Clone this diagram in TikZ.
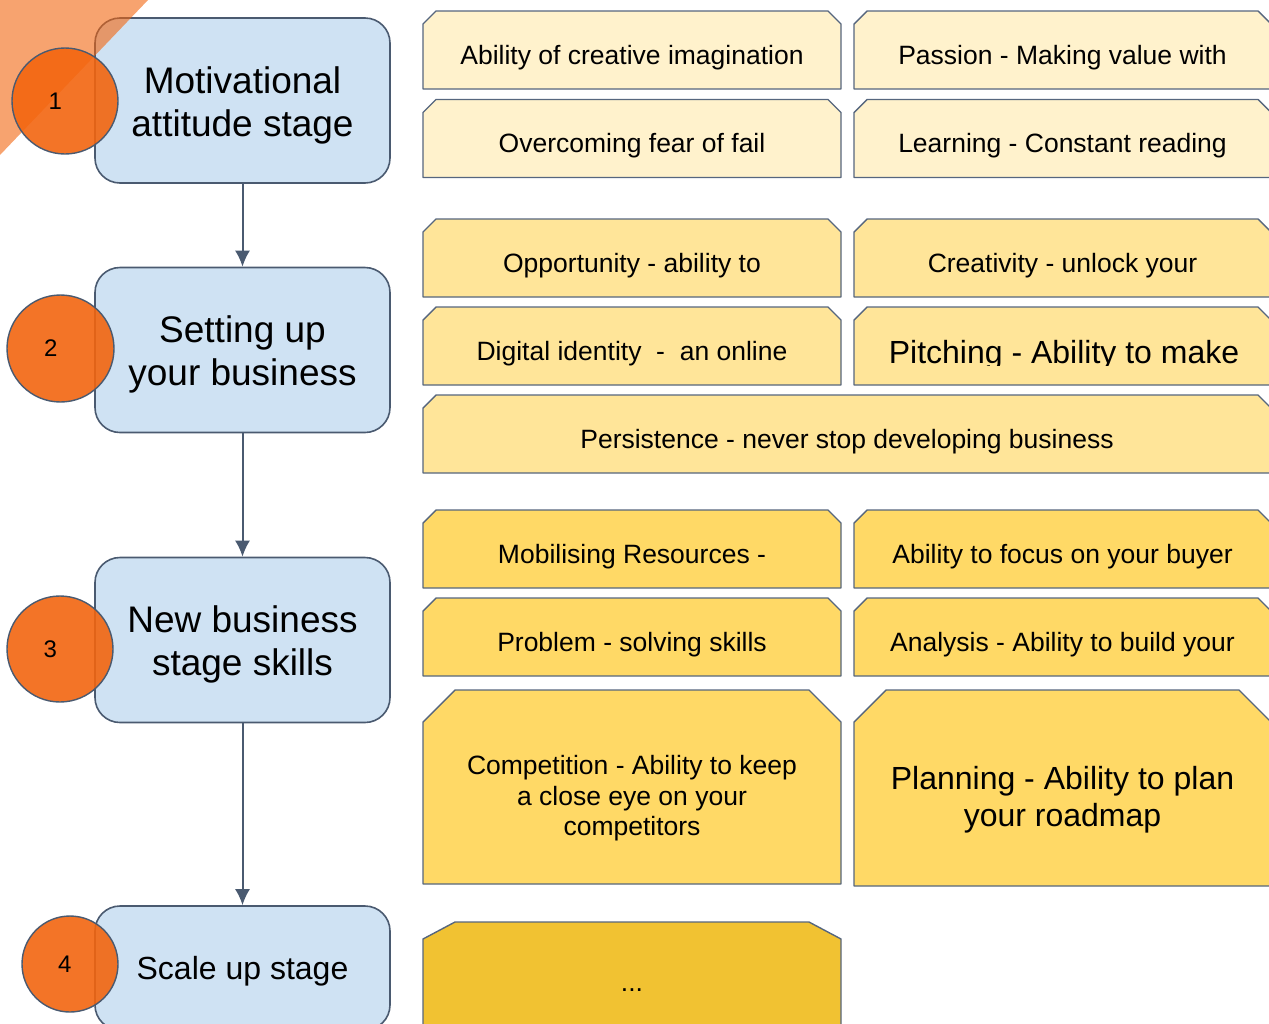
\documentclass[tikz,border=0pt]{standalone}
\usepackage{fontspec}
\setmainfont{Liberation Sans}
\usetikzlibrary{arrows.meta}
\usetikzlibrary{backgrounds}
\definecolor{stagefill}{HTML}{CFE2F3}
\definecolor{edgeblue}{HTML}{4A5A70}
\definecolor{skilledge}{HTML}{56667E}
\definecolor{skillA}{HTML}{FFF2CC}
\definecolor{skillB}{HTML}{FFE599}
\definecolor{skillC}{HTML}{FFD966}
\definecolor{skillD}{HTML}{F1C232}
\definecolor{numorange}{HTML}{F2650F}
\begin{document}
\begin{tikzpicture}[x=1pt,y=-1pt,>={Latex[length=16pt,width=15pt]},
    stage/.style={draw=edgeblue,line width=1.6pt,fill=stagefill,rounded corners=25pt,
        minimum width=295pt,minimum height=165pt,align=center,font=\fontsize{37}{43}\selectfont,
        text height=79.5pt,text depth=8pt},
    num/.style={circle,draw=edgeblue,line width=1.4pt,fill=numorange,fill opacity=0.9,text opacity=1,
        minimum size=106pt,inner sep=0pt,text width=33pt,align=left,font=\fontsize{24}{28}\selectfont},
    skill/.style={rectangle,minimum width=418pt,minimum height=78pt,inner sep=0pt,outer sep=0pt,
        align=center,font=\fontsize{26.5}{31}\selectfont,text height=28pt,text depth=0pt}]
    \useasboundingbox (0,0) rectangle (1269,1023);
    % stages
    \node[stage] (s1) at (242.5,100.5) {Motivational\\attitude stage};
    \node[stage] (s2) at (242.5,350) {Setting up\\your business};
    \node[stage] (s3) at (242.5,640) {New business\\stage skills};
    \node[stage,minimum height=124pt,font=\fontsize{32}{38}\selectfont,text height=23pt,text depth=0pt] (s4) at (242.5,968) {Scale up stage};
    \fill[numorange,opacity=0.6] (0,0) -- (148,0) -- (0,155) -- cycle;
    \node[num] (n1) at (65,101) {1};
    \node[num,minimum size=107pt] (n2) at (60.5,348.5) {2};
    \node[num] (n3) at (60,649) {3};
    \node[num,minimum size=96pt,text width=24pt] (n4) at (70,964) {4};
    \foreach \a/\b in {s1/s2,s2/s3,s3/s4}
        \draw[->,edgeblue,line width=2pt] (\a.south) -- (\b.north);
    % skills
    \node[skill] (a1) at (632,50) {Ability of creative imagination};
    \node[skill,minimum width=417pt] (a2) at (1062.5,50) {Passion - Making value with};
    \node[skill] (a3) at (632,138.5) {Overcoming fear of fail};
    \node[skill,minimum width=417pt] (a4) at (1062.5,138.5) {Learning - Constant reading};
    \node[skill] (b1) at (632,258) {Opportunity - ability to};
    \node[skill,minimum width=417pt] (b2) at (1062.5,258) {Creativity - unlock your};
    \node[skill] (b3) at (632,346) {Digital identity \ - \ an online};
    \node[skill,minimum width=417pt] (b4) at (1062.5,346) {};
    \begin{scope}
        \clip (854,300) rectangle (1271,365);
        \node[anchor=base,font=\fontsize{32}{38}\selectfont] (b4t) at (1064,363.5) {Pitching - Ability to make};
    \end{scope}
    \node[skill,minimum width=848pt] (b5) at (847,434) {Persistence - never stop developing business};
    \node[skill] (c1) at (632,549) {Mobilising Resources -};
    \node[skill,minimum width=417pt] (c2) at (1062.5,549) {Ability to focus on your buyer};
    \node[skill] (c3) at (632,637) {Problem - solving skills};
    \node[skill,minimum width=417pt] (c4) at (1062.5,637) {Analysis - Ability to build your};
    \node[skill,minimum height=194pt,font=\fontsize{26.5}{30.5}\selectfont,text height=103pt,text depth=6pt]
        (c5) at (632,787) {Competition - Ability to keep\\a close eye on your\\competitors};
    \node[skill,minimum width=417pt,minimum height=196pt,font=\fontsize{32}{37}\selectfont,text height=83.5pt,text depth=6.5pt]
        (c6) at (1062.5,788) {Planning - Ability to plan\\your roadmap};
    \node[skill,minimum height=110pt] (d1) at (632,977) {...};
    % box outlines with cut top corners
    \begin{scope}[on background layer]
        \foreach \n/\f/\cx/\cy in {a1/skillA/13/13,a2/skillA/13/13,a3/skillA/13/13,a4/skillA/13/13,
                b1/skillB/13/13,b2/skillB/13/13,b3/skillB/13/13,b4/skillB/13/13,b5/skillB/13/13,
                c1/skillC/13/13,c2/skillC/13/13,c3/skillC/13/13,c4/skillC/13/13,c5/skillC/32/32,c6/skillC/32/32,
                d1/skillD/32/17}
            \filldraw[fill=\f,draw=skilledge,line width=1.4pt,line join=round]
                (\n.south west) -- ([yshift=-\cy pt]\n.north west) -- ([xshift=\cx pt]\n.north west)
                -- ([xshift=-\cx pt]\n.north east) -- ([yshift=-\cy pt]\n.north east) -- (\n.south east) -- cycle;
    \end{scope}
\end{tikzpicture}
\end{document}
